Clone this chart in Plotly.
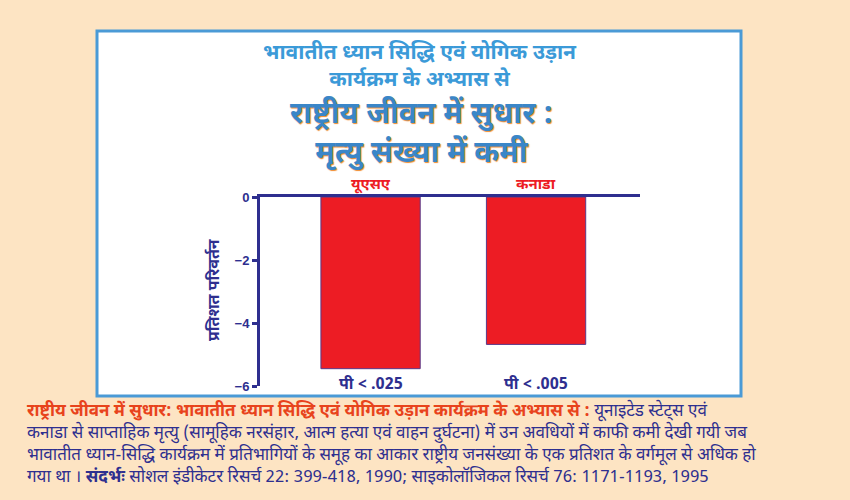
import plotly.graph_objects as go

countries = ["यूएसए", "कनाडा"]
change_pct = [-5.45, -4.68]
p_values = ["पी < .025", "पी < .005"]
y_ticks = [0, -2, -4, -6]
y_tick_labels = ["0", "−2", "−4", "−6"]

title_lines_small = ["भावातीत ध्यान सिद्धि एवं योगिक उड़ान", "कार्यक्रम के अभ्यास से"]
title_lines_big = ["राष्ट्रीय जीवन में सुधार :", "मृत्यु संख्या में कमी"]
y_title = "प्रतिशत परिवर्तन"

NAVY = "#2e2f8f"
RED = "#ed1c24"
PEACH = "#fde4c3"
FONT = "Noto Sans Devanagari, Noto Sans, Lato, sans-serif"

# pixel -> paper helpers (plot area: x 260..640, y 197..386)
def px(x):
    return (x - 260) / 380

def py(y):
    return (386 - y) / 189

fig = go.Figure()
fig.add_trace(go.Bar(
    x=countries, y=change_pct, width=0.6,
    marker=dict(color=RED, line=dict(color="#5a3a8a", width=1)),
    hoverinfo="skip",
))

fig.add_shape(type="rect", xref="paper", yref="paper",
              x0=px(97), x1=px(741), y0=py(396), y1=py(31),
              fillcolor="white", line=dict(color="#4a9ad6", width=3), layer="below")

ann = []
ann.append(dict(text="<br>".join(f"<b>{t}</b>" for t in title_lines_small),
                x=px(420), y=py(67), xref="paper", yref="paper",
                xanchor="center", yanchor="middle", showarrow=False,
                font=dict(family=FONT, size=21, color="#3b9ad8")))
ann.append(dict(text="<br>".join(f"<b>{t}</b>" for t in title_lines_big),
                x=px(421), y=py(135), xref="paper", yref="paper",
                xanchor="center", yanchor="middle", showarrow=False,
                font=dict(family=FONT, size=30, color="#3a86c8",
                          shadow="1px 1px 1px #f08a2c")))
for c, p in zip(countries, p_values):
    ann.append(dict(text=f"<b>{c}</b>", x=c, y=0, xref="x", yref="y", yshift=12,
                    xanchor="center", yanchor="middle",
                    showarrow=False, font=dict(family=FONT, size=15, color=RED)))
    ann.append(dict(text=f"<b>{p}</b>", x=c, y=-6, xref="x", yref="y", yshift=1,
                    xanchor="center", yanchor="middle",
                    showarrow=False, font=dict(family=FONT, size=16, color=NAVY)))
ann.append(dict(text=f"<b>{y_title}</b>", x=px(215), y=py(290), xref="paper", yref="paper",
                xanchor="center", yanchor="middle",
                textangle=-90, showarrow=False, font=dict(family=FONT, size=16, color=NAVY)))

cap_red = "राष्ट्रीय जीवन में सुधार: भावातीत ध्यान सिद्धि एवं योगिक उड़ान कार्यक्रम के अभ्यास से :"
caption = [
    f"<span style='color:#e8431c'><b>{cap_red}</b></span> यूनाइटेड स्टेट्स एवं",
    "कनाडा से साप्ताहिक मृत्यु (सामूहिक नरसंहार, आत्म हत्या एवं वाहन दुर्घटना) में उन अवधियों में काफी कमी देखी गयी जब",
    "भावातीत ध्यान-सिद्धि कार्यक्रम में प्रतिभागियों के समूह का आकार राष्ट्रीय जनसंख्या के एक प्रतिशत के वर्गमूल से अधिक हो",
    "गया था । <b>संदर्भः</b> सोशल इंडीकेटर रिसर्च 22: 399-418, 1990; साइकोलॉजिकल रिसर्च 76: 1171-1193, 1995",
]
ann.append(dict(text="<br>".join(caption), x=px(25), y=py(444), align="left",
                xref="paper", yref="paper", xanchor="left", yanchor="middle", showarrow=False,
                font=dict(family=FONT, size=17, color=NAVY)))

fig.update_layout(
    width=850, height=500,
    margin=dict(l=260, r=210, t=197, b=114),
    paper_bgcolor=PEACH, plot_bgcolor="white",
    showlegend=False, annotations=ann,
)
fig.update_xaxes(range=[-0.668, 1.628], side="top", showline=True, linewidth=3, linecolor=NAVY,
                 showticklabels=False, ticks="", showgrid=False, zeroline=False)
fig.update_yaxes(range=[-6, 0], tickvals=y_ticks, ticktext=y_tick_labels,
                 showline=True, linewidth=3, linecolor=NAVY, ticks="outside", ticklen=5,
                 tickwidth=3, tickcolor=NAVY, showgrid=False, zeroline=False,
                 tickfont=dict(family="Liberation Sans", size=13, color=NAVY, weight="bold"))

fig.write_html("out.html")
